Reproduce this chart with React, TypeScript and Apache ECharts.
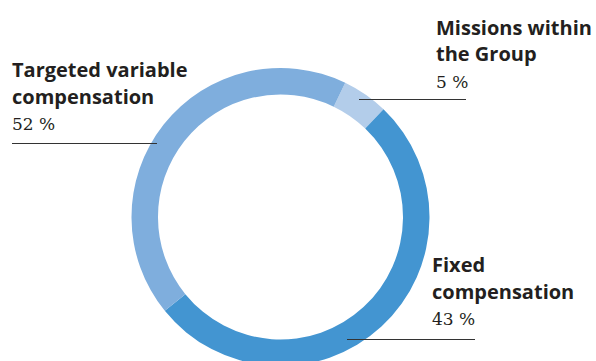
import React, { useEffect, useRef } from 'react';
import * as echarts from 'echarts';

// Slices in clockwise order, starting near 12 o'clock
const sliceNames = ['Missions within the Group', 'Targeted variable compensation', 'Fixed compensation'];
const sliceValues = [5, 52, 43];
const sliceColors = ['#b3cdea', '#4395d1', '#7faedd'];

// Label texts
const labelTitles = [
  ['Missions within', 'the Group'],
  ['Targeted variable', 'compensation'],
  ['Fixed', 'compensation'],
];
const labelPercents = ['5 %', '52 %', '43 %'];

// Label layout (pixels)
const labelLayout = [
  { x: 436, base: 35, lineY: 99.5, lx1: 359, lx2: 466 },
  { x: 12, base: 77.5, lineY: 143.5, lx1: 12, lx2: 157 },
  { x: 432, base: 272.5, lineY: 339.5, lx1: 347, lx2: 475 },
];

export default function App() {
  const ref = useRef<HTMLDivElement>(null);
  useEffect(() => {
    document.body.style.margin = '0';
    const chart = echarts.init(ref.current!, undefined, { renderer: 'svg' });
    const graphics: any[] = [];
    labelLayout.forEach((l, i) => {
      labelTitles[i].forEach((t, j) => {
        graphics.push({
          type: 'text',
          x: l.x,
          y: l.base + j * 26.5 - 7.8,
          style: {
            text: t,
            fontFamily: 'Open Sans',
            fontWeight: 'bold',
            fontSize: 20,
            fill: '#231f20',
            verticalAlign: 'middle',
            align: 'left',
          },
        });
      });
      graphics.push({
        type: 'text',
        x: l.x,
        y: l.base + 52.5 - 5.9,
        style: {
          text: labelPercents[i],
          fontFamily: 'DejaVu Serif',
          fontSize: 17,
          fill: '#231f20',
          verticalAlign: 'middle',
          align: 'left',
        },
      });
      graphics.push({
        type: 'line',
        shape: { x1: l.lx1, y1: l.lineY, x2: l.lx2, y2: l.lineY },
        style: { stroke: '#333333', lineWidth: 1 },
        z: 10,
      });
    });
    chart.setOption({
      animation: false,
      backgroundColor: '#ffffff',
      series: [
        {
          type: 'pie',
          center: [280.5, 217],
          radius: [122.5, 149],
          startAngle: 64.25,
          clockwise: true,
          avoidLabelOverlap: false,
          label: { show: false },
          labelLine: { show: false },
          emphasis: { disabled: true },
          itemStyle: { borderWidth: 0 },
          data: sliceNames.map((n, i) => ({
            name: n,
            value: sliceValues[i],
            itemStyle: { color: sliceColors[i] },
          })),
        },
      ],
      graphic: graphics,
    });
    return () => chart.dispose();
  }, []);
  return (
    <div
      ref={ref}
      style={{ position: 'fixed', left: 0, top: 0, width: 596, height: 361 }}
    />
  );
}
